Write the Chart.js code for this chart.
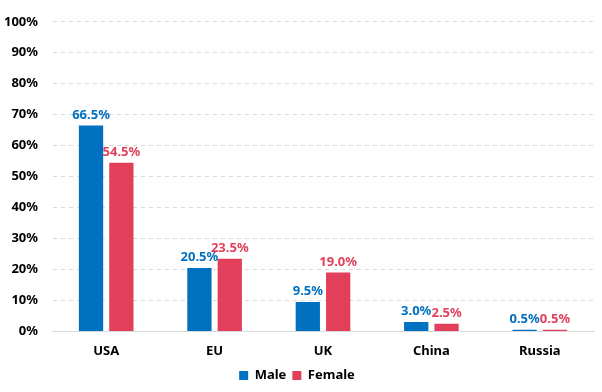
<!DOCTYPE html>
<html>
<head>
<meta charset="utf-8">
<script src="https://cdn.jsdelivr.net/npm/chart.js@4.4.0/dist/chart.umd.min.js"></script>
<style>
  html, body { margin: 0; padding: 0; background: #fff; }
  #wrap { width: 602px; height: 392px; }
</style>
</head>
<body>
<div id="wrap"><canvas id="chart"></canvas></div>
<script>
// chart data
var categories = ['USA', 'EU', 'UK', 'China', 'Russia'];
var maleValues = [66.5, 20.5, 9.5, 3.0, 0.5];
var femaleValues = [54.5, 23.5, 19.0, 2.5, 0.5];
var seriesNames = ['Male', 'Female'];

var blue = '#0070C0';
var red = '#E2405A';
var fontFamily = "'Noto Sans', 'Open Sans', sans-serif";

// draws the value labels above each bar
var valueLabels = {
  id: 'valueLabels',
  afterDatasetsDraw: function(chart) {
    var ctx = chart.ctx;
    ctx.save();
    ctx.font = 'bold 13px ' + fontFamily;
    ctx.textAlign = 'center';
    ctx.textBaseline = 'bottom';
    chart.data.datasets.forEach(function(ds, i) {
      var meta = chart.getDatasetMeta(i);
      ctx.fillStyle = ds.backgroundColor;
      meta.data.forEach(function(bar, j) {
        ctx.fillText(ds.data[j].toFixed(1) + '%', bar.x, bar.y - 4);
      });
    });
    ctx.restore();
  }
};

new Chart(document.getElementById('chart'), {
  type: 'bar',
  data: {
    labels: categories,
    datasets: [
      { label: seriesNames[0], data: maleValues, backgroundColor: blue },
      { label: seriesNames[1], data: femaleValues, backgroundColor: red }
    ]
  },
  options: {
    responsive: true,
    maintainAspectRatio: false,
    animation: false,
    layout: { padding: { left: 0, right: 8, top: 0, bottom: 0 } },
    datasets: {
      bar: { barPercentage: 0.8, categoryPercentage: 0.56 }
    },
    scales: {
      x: {
        grid: { display: false },
        border: { color: '#d9d9d9' },
        ticks: { color: '#000', font: { family: fontFamily, size: 13, weight: 'bold' }, padding: 4 }
      },
      y: {
        min: 0,
        max: 100,
        afterFit: function(scale) { scale.width = 52; },
        grid: { color: '#d9d9d9', drawTicks: false },
        border: { display: true, color: 'rgba(0,0,0,0)', dash: [4, 4] },
        ticks: {
          stepSize: 10,
          padding: 14,
          color: '#000',
          font: { family: fontFamily, size: 13, weight: 'bold' },
          callback: function(v) { return v + '%'; }
        }
      }
    },
    plugins: {
      legend: {
        position: 'bottom',
        labels: {
          boxWidth: 9,
          boxHeight: 9,
          padding: 6,
          color: '#000',
          font: { family: fontFamily, size: 13, weight: 'bold' }
        }
      },
      tooltip: { enabled: false }
    }
  },
  plugins: [valueLabels]
});
</script>
</body>
</html>
